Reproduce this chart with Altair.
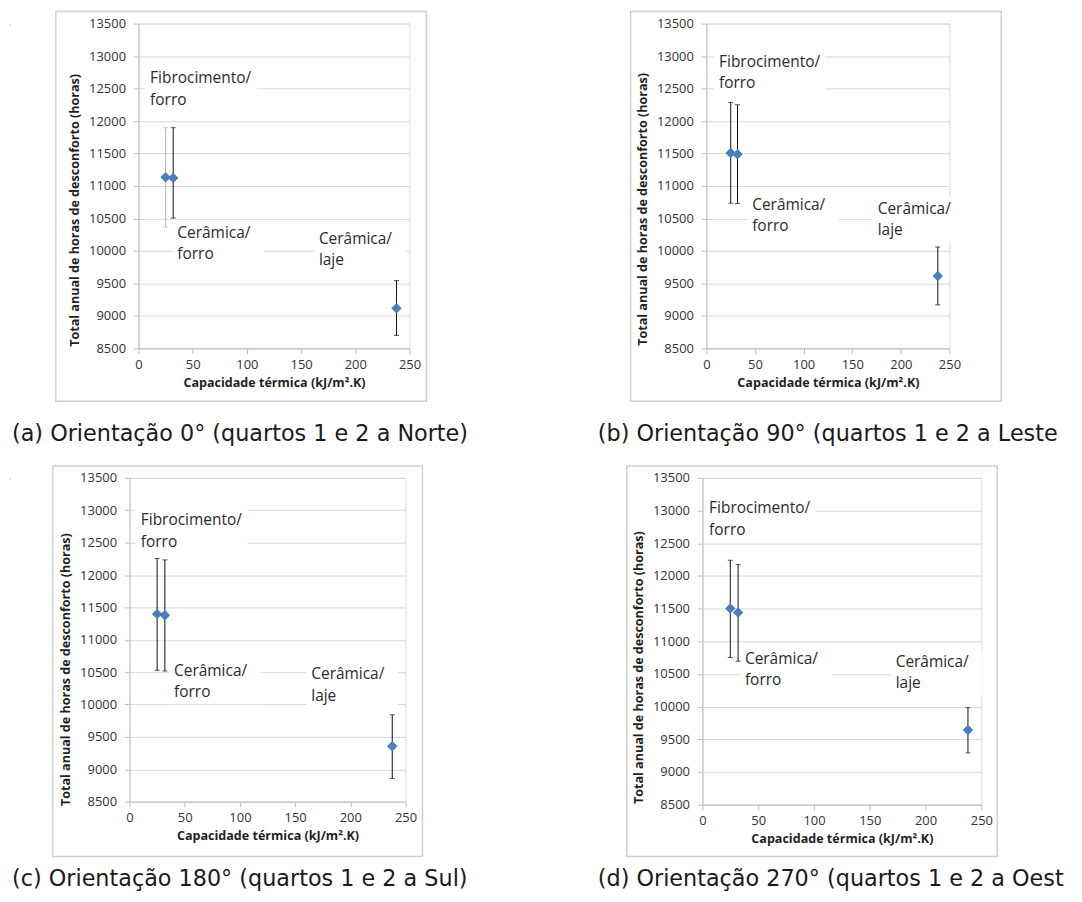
import altair as alt
import pandas as pd

# ---------------- data ----------------
X_VALUES = [25, 32, 238]  # capacidade térmica (kJ/m².K)

Y_A = [11136, 11125, 9119]
LO_A = [10368, 10506, 8700]
HI_A = [11898, 11898, 9544]

Y_B = [11509, 11488, 9615]
LO_B = [10736, 10731, 9170]
HI_B = [12287, 12251, 10061]

Y_C = [11400, 11379, 9355]
LO_C = [10529, 10518, 8859]
HI_C = [12255, 12234, 9842]

Y_D = [11503, 11442, 9643]
LO_D = [10751, 10695, 9293]
HI_D = [12240, 12174, 9984]

ERR_COLORS_A = ["#b3b3b3", "#111111", "#111111"]
ERR_COLORS = ["#111111", "#111111", "#111111"]

LABEL_LINE1 = ["Fibrocimento/", "Cerâmica/", "Cerâmica/"]
LABEL_LINE2 = ["forro", "forro", "laje"]

LABEL_X_A = [10.7, 35.8, 166.4]
LABEL_Y1_A = [12656, 10281, 10189]
LABEL_Y2_A = [12328, 9948, 9866]

LABEL_X_B = [13.0, 47.1, 176.2]
LABEL_Y1_B = [12911, 10711, 10649]
LABEL_Y2_B = [12579, 10378, 10317]

LABEL_X_C = [10.2, 40.3, 164.6]
LABEL_Y1_C = [12844, 10518, 10477]
LABEL_Y2_C = [12511, 10191, 10139]

LABEL_X_D = [6.0, 38.1, 173.2]
LABEL_Y1_D = [13038, 10736, 10685]
LABEL_Y2_D = [12697, 10405, 10354]

CAPTIONS = [
    "(a) Orientação 0° (quartos 1 e 2 a Norte)",
    "(b) Orientação 90° (quartos 1 e 2 a Leste)",
    "(c) Orientação 180° (quartos 1 e 2 a Sul)",
    "(d) Orientação 270° (quartos 1 e 2 a Oeste)",
]

X_TICKS = [0, 50, 100, 150, 200, 250]
Y_TICKS = [8500, 9000, 9500, 10000, 10500, 11000, 11500, 12000, 12500, 13000, 13500]
X_TITLE = "Capacidade térmica (kJ/m².K)"
Y_TITLE = "Total anual de horas de desconforto (horas)"

# ---------------- layout / style ----------------
PLOT_W = [272, 244, 277, 280]
PLOT_H = [326, 326, 325, 328]
CELL = [(-127, -13, 404, 429), (-164, -13, 368, 429), (-118, -25, 413, 417), (-160, -25, 372, 417)]
FRAME = [(-83, -12.2, 289, 379), (-76, -12.2, 296, 379), (-77, -12, 294, 380), (-76, -12, 296, 380)]
CAPTION_POS = [(-127, 412), (-109, 412), (-118, 403), (-105, 403)]
CAPTION_LIMIT = [520, 470, 520, 476]
TITLE_Y = [187, 186, 192, 190]
BOX_W_PX = [112, 92, 92]
BOX_PAD_L = 5
BOX_PAD_V = 12

FONT = "Open Sans"
CAPTION_FONT = "DejaVu Sans"
POINT_COLOR = "#4a7ebb"

SERIES = [
    (Y_A, LO_A, HI_A, ERR_COLORS_A, LABEL_X_A, LABEL_Y1_A, LABEL_Y2_A),
    (Y_B, LO_B, HI_B, ERR_COLORS, LABEL_X_B, LABEL_Y1_B, LABEL_Y2_B),
    (Y_C, LO_C, HI_C, ERR_COLORS, LABEL_X_C, LABEL_Y1_C, LABEL_Y2_C),
    (Y_D, LO_D, HI_D, ERR_COLORS, LABEL_X_D, LABEL_Y1_D, LABEL_Y2_D),
]

ONE = pd.DataFrame({"k": [0]})


def panel(i):
    W, H = PLOT_W[i], PLOT_H[i]
    ys_, lo_, hi_, cols_, lx, ly1, ly2 = SERIES[i]
    pts = pd.DataFrame({"x": X_VALUES, "y": ys_, "lo": lo_, "hi": hi_, "c": cols_})

    ux = 250 / W  # data units per pixel
    uy = 5000 / H
    boxes = pd.DataFrame({
        "x0": [x - BOX_PAD_L * ux for x in lx],
        "x1": [x - BOX_PAD_L * ux + bw * ux for x, bw in zip(lx, BOX_W_PX)],
        "y0": [y + BOX_PAD_V * uy for y in ly1],
        "y1": [y - BOX_PAD_V * uy for y in ly2],
    })
    texts = pd.DataFrame({
        "x": lx + lx,
        "y": ly1 + ly2,
        "t": LABEL_LINE1 + LABEL_LINE2,
    })

    xs = alt.Scale(domain=[0, 250], nice=False, zero=False)
    ys = alt.Scale(domain=[8500, 13500], nice=False, zero=False)
    common = dict(
        domainColor="#bfbfbf", tickColor="#bfbfbf", tickSize=5, labelFlush=False,
        labelFont=FONT, labelFontSize=13, labelColor="#333333",
        titleFont=FONT, titleFontSize=12.6, titleFontWeight="bold", titleColor="#1f1f1f",
    )
    xax = alt.Axis(values=X_TICKS, title=X_TITLE, grid=False, format="d",
                   labelPadding=5, titlePadding=5, **common)
    yax = alt.Axis(values=Y_TICKS, title=Y_TITLE, grid=True, gridColor="#d9d9d9", format="d",
                   labelPadding=8, titlePadding=7, titleY=TITLE_Y[i], **common)

    def X(f):
        return alt.X(f, type="quantitative", scale=xs, axis=xax)

    def Y(f):
        return alt.Y(f, type="quantitative", scale=ys, axis=yax)

    cl, ct, cr, cb = CELL[i]
    fl, ft, fr, fb = FRAME[i]
    cx, cy = CAPTION_POS[i]

    extent = alt.Chart(ONE).mark_rect(opacity=0).encode(
        x=alt.value(cl), x2=alt.value(cr), y=alt.value(ct), y2=alt.value(cb))
    frame = alt.Chart(ONE).mark_rect(fillOpacity=0, stroke="#d0d0d0", strokeWidth=1.5).encode(
        x=alt.value(fl), x2=alt.value(fr), y=alt.value(ft), y2=alt.value(fb))
    caption = alt.Chart(ONE).mark_text(
        align="left", baseline="middle", font=CAPTION_FONT, fontSize=22.4, color="#1a1a1a",
        limit=CAPTION_LIMIT[i], ellipsis="\u200b"
    ).encode(x=alt.value(cx), y=alt.value(cy), text=alt.value(CAPTIONS[i]))

    box = alt.Chart(boxes).mark_rect(color="white").encode(
        x=X("x0"), x2="x1", y=Y("y0"), y2="y1")
    lab = alt.Chart(texts).mark_text(
        align="left", baseline="middle", font=FONT, fontSize=15.5, color="#2b2b2b"
    ).encode(x=X("x"), y=Y("y"), text="t:N")

    rules = alt.Chart(pts).mark_rule(strokeWidth=1).encode(
        x=X("x"), y=Y("lo"), y2="hi", color=alt.Color("c:N", scale=None))
    cap_lo = alt.Chart(pts).mark_tick(orient="horizontal", size=5, thickness=1).encode(
        x=X("x"), y=Y("lo"), color=alt.Color("c:N", scale=None))
    cap_hi = alt.Chart(pts).mark_tick(orient="horizontal", size=5, thickness=1).encode(
        x=X("x"), y=Y("hi"), color=alt.Color("c:N", scale=None))
    points = alt.Chart(pts).mark_point(
        shape="diamond", filled=True, size=110, color=POINT_COLOR, opacity=1
    ).encode(x=X("x"), y=Y("y"))

    return alt.layer(extent, frame, caption, box, lab, rules, cap_lo, cap_hi, points).properties(
        width=W, height=H)


def spacer():
    return alt.Chart(ONE).mark_rect(opacity=0).encode(
        x=alt.value(0), x2=alt.value(1), y=alt.value(0), y2=alt.value(1)
    ).properties(width=1, height=1)


row1 = alt.hconcat(spacer(), panel(0), panel(1), spacing=0)
row2 = alt.hconcat(spacer(), panel(2), panel(3), spacing=0)

chart = alt.vconcat(row1, row2, spacing=0).properties(
    padding=0
).configure_view(strokeWidth=0).configure(background="white")

chart.save("out.html", embed_options={"renderer": "svg", "actions": False})
